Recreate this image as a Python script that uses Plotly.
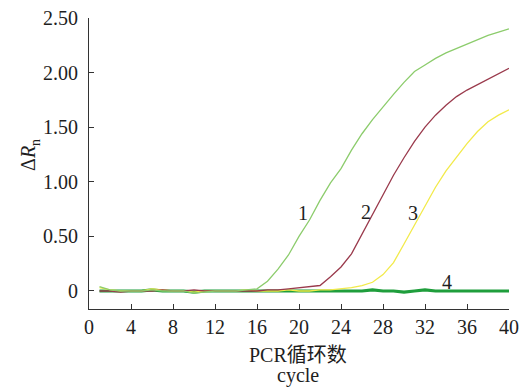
import plotly.graph_objects as go

cycles = list(range(1, 41))

curve1 = [0.04, 0.01, 0.00, 0.00, 0.00, 0.01, 0.00, 0.00, 0.00, -0.02,
          -0.01, 0.00, 0.00, 0.00, 0.01, 0.02, 0.09, 0.20, 0.33, 0.50,
          0.65, 0.83, 0.99, 1.12, 1.29, 1.44, 1.57, 1.69, 1.80, 1.91,
          2.01, 2.07, 2.13, 2.18, 2.22, 2.26, 2.30, 2.34, 2.37, 2.40]
curve2 = [0.00, 0.00, -0.01, 0.00, 0.00, 0.00, 0.01, 0.00, 0.00, 0.01,
          0.00, 0.00, 0.00, 0.00, 0.00, 0.00, 0.01, 0.01, 0.02, 0.03,
          0.04, 0.05, 0.13, 0.22, 0.34, 0.52, 0.70, 0.88, 1.06, 1.22,
          1.37, 1.50, 1.61, 1.70, 1.78, 1.84, 1.89, 1.94, 1.99, 2.04]
curve3 = [0.03, 0.01, 0.00, 0.00, 0.00, 0.02, 0.01, 0.00, 0.00, -0.01,
          0.00, 0.00, 0.00, 0.00, 0.01, 0.00, 0.00, 0.00, 0.01, 0.00,
          0.00, 0.01, 0.01, 0.02, 0.03, 0.05, 0.08, 0.15, 0.26, 0.43,
          0.60, 0.78, 0.95, 1.10, 1.23, 1.35, 1.46, 1.55, 1.61, 1.66]
curve4 = [0.00, 0.00, 0.00, 0.00, 0.00, 0.01, 0.00, 0.00, 0.00, -0.01,
          0.00, 0.00, 0.00, 0.00, 0.00, 0.00, 0.00, 0.00, 0.00, 0.00,
          0.00, 0.00, 0.00, 0.00, 0.00, 0.00, 0.01, 0.00, 0.00, -0.01,
          0.00, 0.01, 0.00, 0.00, 0.00, 0.00, 0.00, 0.00, 0.00, 0.00]

curve_labels = ["1", "2", "3", "4"]
label_x = [20.4, 26.4, 30.9, 34.1]
label_y = [0.71, 0.72, 0.71, 0.085]

x_ticks = list(range(0, 41, 4))
y_ticks = [0, 0.5, 1.0, 1.5, 2.0, 2.5]
y_tick_text = ["0", "0.50", "1.00", "1.50", "2.00", "2.50"]

serif = "Liberation Serif, Times New Roman, Noto Sans CJK SC, serif"
txt = "#1e1e1e"

fig = go.Figure()
fig.add_trace(go.Scatter(x=cycles, y=curve4, mode="lines",
                         line=dict(color="#1f9e3c", width=3.2)))
fig.add_trace(go.Scatter(x=cycles, y=curve3, mode="lines",
                         line=dict(color="#f2ea4a", width=1.3)))
fig.add_trace(go.Scatter(x=cycles, y=curve2, mode="lines",
                         line=dict(color="#9a3a4c", width=1.3)))
fig.add_trace(go.Scatter(x=cycles, y=curve1, mode="lines",
                         line=dict(color="#8ccc6c", width=1.3)))

for t, xx, yy in zip(curve_labels, label_x, label_y):
    fig.add_annotation(x=xx, y=yy, text=t, showarrow=False,
                       font=dict(family=serif, size=20, color=txt))

fig.add_annotation(xref="paper", yref="paper", x=-0.14, y=0.53,
                   xanchor="center", yanchor="middle",
                   text="Δ<i>R</i><sub>n</sub>", textangle=-90, showarrow=False,
                   font=dict(family=serif, size=20, color=txt))
fig.add_annotation(xref="paper", yref="paper", x=0.498, y=-0.158,
                   text="PCR循环数", showarrow=False, xanchor="center", yanchor="middle",
                   font=dict(family=serif, size=20, color=txt))
fig.add_annotation(xref="paper", yref="paper", x=0.498, y=-0.23,
                   text="cycle", showarrow=False, xanchor="center", yanchor="middle",
                   font=dict(family=serif, size=20, color=txt))

fig.update_layout(
    width=522, height=387,
    margin=dict(l=89, r=13, t=18, b=78),
    plot_bgcolor="white", paper_bgcolor="white",
    showlegend=False,
    font=dict(family=serif, size=20, color=txt),
    xaxis=dict(range=[0, 40], tickvals=x_ticks, showgrid=False, zeroline=False,
               automargin=False,
               showline=True, linecolor="#333", linewidth=1.2,
               ticks="inside", ticklen=5, tickcolor="#333",
               tickfont=dict(family=serif, size=20, color=txt)),
    yaxis=dict(range=[-0.165, 2.5], tickvals=y_ticks, ticktext=y_tick_text,
               showgrid=False, zeroline=False, automargin=False,
               ticklabelstandoff=6,
               showline=True, linecolor="#333", linewidth=1.2,
               ticks="inside", ticklen=5, tickcolor="#333",
               tickfont=dict(family=serif, size=20, color=txt)),
)

fig.write_html("out.html")
